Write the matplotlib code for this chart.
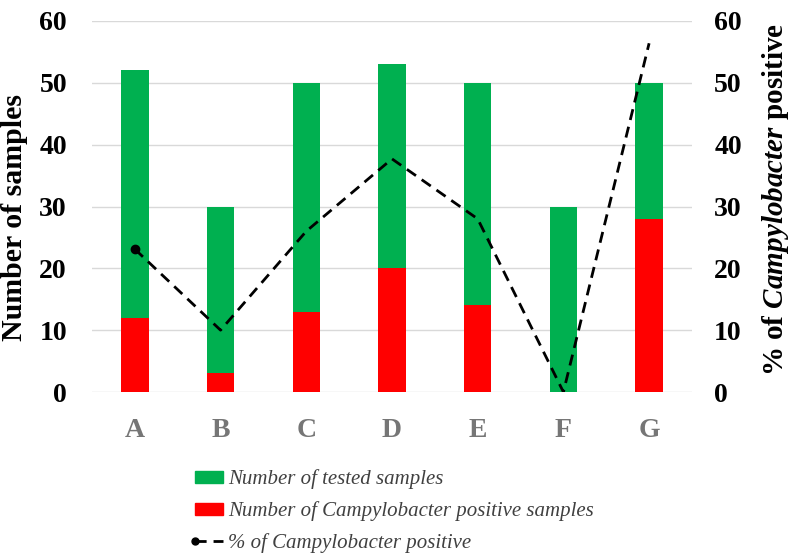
import numpy as np
import matplotlib.pyplot as plt
from matplotlib.patches import Patch
from matplotlib.lines import Line2D
from matplotlib.legend_handler import HandlerBase

# -------------------------------
# Data
# -------------------------------
groups = ["A", "B", "C", "D", "E", "F", "G"]
tested = [52, 30, 50, 53, 50, 30, 50]
positive = [12, 3, 13, 20, 14, 0, 28]
pct_positive = [23.1, 10, 26, 37.7, 28, 0, 56.4]

GREEN = "#00B050"
RED = "#FF0000"
GRID = "#D9D9D9"
DASH = (0, (4, 2.5))

plt.rcParams['font.family'] = ['Liberation Serif', 'DejaVu Serif']
plt.rcParams['mathtext.fontset'] = 'custom'
plt.rcParams['mathtext.rm'] = 'Liberation Serif:bold'
plt.rcParams['mathtext.bfit'] = 'Liberation Serif:italic:bold'


# legend handle: dot on the left end, dashes after it
class LeftDotHandler(HandlerBase):
    def create_artists(self, legend, orig_handle, xdescent, ydescent,
                       width, height, fontsize, trans):
        y = height / 2 - ydescent
        line = Line2D([-xdescent, width - xdescent], [y, y], color="black",
                      linestyle=DASH, linewidth=2)
        dot = Line2D([-xdescent], [y], marker="o", markersize=5,
                     color="black", linestyle="none")
        line.set_transform(trans)
        dot.set_transform(trans)
        return [line, dot]


fig = plt.figure(figsize=(7.91, 5.6), dpi=100)
ax = fig.add_axes([0.1163, 0.3, 0.7585, 0.6625])
x = np.arange(len(groups))
w = 0.32

# bars
ax.bar(x, tested, width=w, color=GREEN, zorder=2)
ax.bar(x, positive, width=w, color=RED, zorder=3)

ax.set_xlim(-0.5, len(groups) - 0.5)
ax.set_ylim(0, 60)
ax.set_yticks(range(0, 61, 10))
ax.yaxis.grid(True, color=GRID, linewidth=1)
ax.set_axisbelow(True)
for s in ax.spines.values():
    s.set_visible(False)
ax.tick_params(length=0)
ax.tick_params(axis='y', labelsize=20, pad=18)
ax.tick_params(axis='x', labelsize=20, pad=19, labelcolor="#767676")
for lbl in ax.get_yticklabels():
    lbl.set_fontweight('bold')
ax.set_xticks(x)
ax.set_xticklabels(groups, fontweight='bold')
ax.set_ylabel("Number of samples", fontsize=21.5, fontweight='bold')
ax.yaxis.set_label_coords(-0.107, 0.47)

# secondary axis: percentage
ax2 = ax.twinx()
ax2.plot(x, pct_positive, color="black", linestyle=DASH, linewidth=2,
         marker="o", markersize=6, markevery=[0], zorder=4)
ax2.set_ylim(0, 60)
ax2.set_yticks(range(0, 61, 10))
for s in ax2.spines.values():
    s.set_visible(False)
ax2.tick_params(length=0, labelsize=20, pad=16)
for lbl in ax2.get_yticklabels():
    lbl.set_fontweight('bold')
ax2.set_ylabel("% of $\\mathbfit{Campylobacter}$ positive", fontsize=21,
               fontweight='bold')
ax2.yaxis.set_label_coords(1.113, 0.52)

# legend
handles = [Patch(color=GREEN), Patch(color=RED), Line2D([0], [0])]
labels = [
    "Number of tested samples",
    "Number of Campylobacter positive samples",
    "% of Campylobacter positive",
]
leg = fig.legend(handles, labels, loc="upper left", bbox_to_anchor=(0.2465, 0.162),
                 frameon=False, handlelength=1.35, handleheight=0.5,
                 handletextpad=0.25, labelspacing=0.58, borderaxespad=0,
                 borderpad=0,
                 handler_map={handles[2]: LeftDotHandler()},
                 prop={'family': 'Liberation Serif', 'style': 'italic', 'size': 15})
for t in leg.get_texts():
    t.set_color("#404040")

fig.savefig("out.png", dpi=100)
